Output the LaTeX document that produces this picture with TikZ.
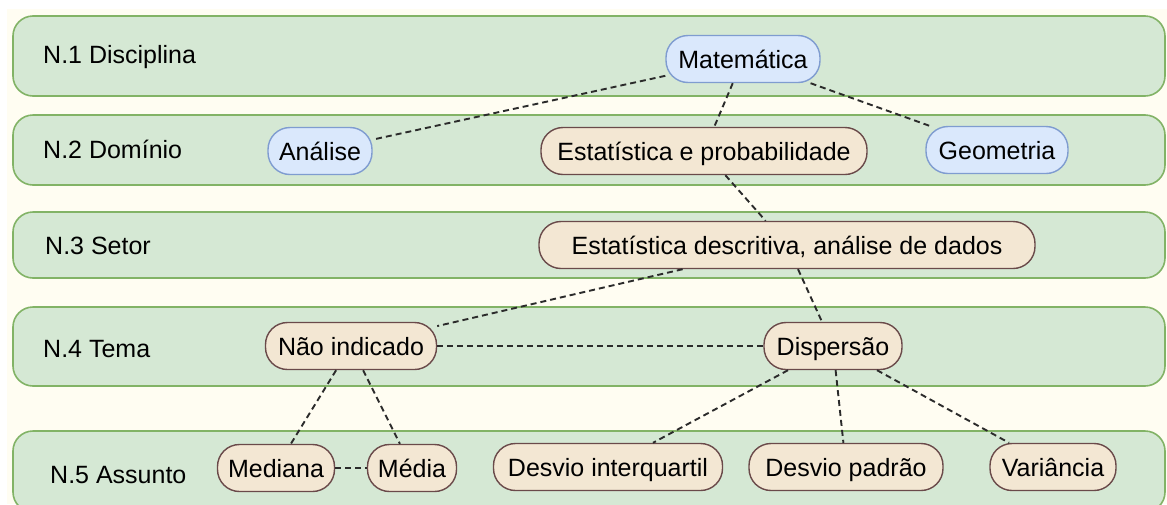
\documentclass[tikz,border=0pt]{standalone}
\usepackage{fontspec}
\setmainfont{Liberation Sans}
\definecolor{cream}{HTML}{FFFDF2}
\definecolor{bandfill}{HTML}{D5E8D4}
\definecolor{bandline}{HTML}{82B366}
\definecolor{bluefill}{HTML}{DAE8FC}
\definecolor{blueline}{HTML}{7F9CD0}
\definecolor{tanfill}{HTML}{F3E7D3}
\definecolor{tanline}{HTML}{6A4A4A}
\definecolor{linkgray}{HTML}{2B2B2B}

\begin{document}
\begin{tikzpicture}[x=1pt,y=-1pt,
    every node/.style={font=\fontsize{25}{30}\selectfont},
    band/.style={fill=bandfill,draw=bandline,line width=1.6pt,rounded corners=20pt},
    lvl/.style={anchor=base west,inner sep=0pt},
    topic/.style={line width=1.4pt,rounded corners=22pt,minimum height=47pt,inner sep=0pt,text height=18pt,text depth=0pt},
    bluebox/.style={topic,fill=bluefill,draw=blueline},
    tanbox/.style={topic,fill=tanfill,draw=tanline},
    dashlink/.style={draw=linkgray,line width=1.9pt,dash pattern=on 6pt off 4pt}]
        \useasboundingbox (0,0) rectangle (1167,504);
        \fill[cream] (7,9) rectangle (1167,504);
        % levels
        \foreach \a/\b in {16/96,115/185,212/278,307/386,431/512}
          \draw[band] (13,\a) rectangle (1165,\b);
        \foreach \n/\x/\y/\t in {1/43/63/N.1 Disciplina,2/43/158/N.2 Domínio,3/45/254/N.3 Setor,4/43/357/N.4 Tema,5/50/483/N.5 Assunto}
          \node[lvl] (lvl\n) at (\x,\y) {\t};
        % concepts
        \foreach \n/\x/\y/\w/\t in {mat/743/59/154/Matemática,ana/320/151/104/Análise,geo/997/150/142/Geometria}
          \node[bluebox,minimum width=\w pt] (\n) at (\x,\y) {\t};
        \foreach \n/\x/\y/\w/\t in {estprob/704/151/326/Estatística e probabilidade,estdesc/787/245/496/{Estatística descritiva, análise de dados},naoind/351/346/171/Não indicado,disp/833/346/138/Dispersão,mediana/276/468/117/Mediana,media/412/468/89/Média,desvioiq/608/467/229/Desvio interquartil,desviop/846/467/194/Desvio padrão,variancia/1053/467/126/Variância}
          \node[tanbox,minimum width=\w pt] (\n) at (\x,\y) {\t};
        % links
        \foreach \a/\b in {mat/ana,mat/estprob,mat/geo,estprob/estdesc,estdesc/naoind,estdesc/disp,naoind/disp,naoind/mediana,naoind/media,mediana/media,disp/desvioiq,disp/desviop,disp/variancia}
          \draw[dashlink] (\a) -- (\b);
      \end{tikzpicture}
\end{document}
